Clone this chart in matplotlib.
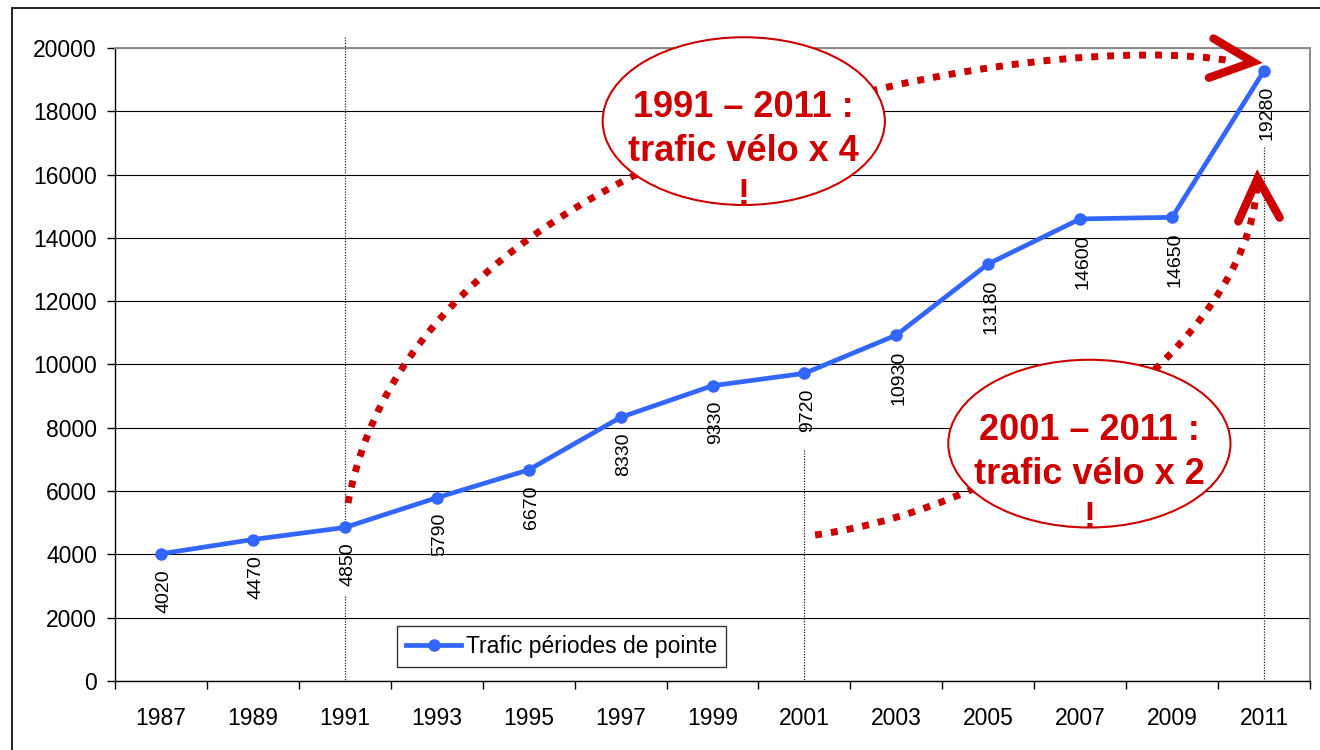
import matplotlib
matplotlib.use('Agg')
import matplotlib.pyplot as plt
from matplotlib.patches import Ellipse, PathPatch, Rectangle
from matplotlib.path import Path
import numpy as np

plt.rcParams['font.family'] = ['Liberation Sans', 'DejaVu Sans']

# ---------------- data ----------------
years = ['1987', '1989', '1991', '1993', '1995', '1997', '1999',
         '2001', '2003', '2005', '2007', '2009', '2011']
traffic = [4020, 4470, 4850, 5790, 6670, 8330, 9330,
           9720, 10930, 13180, 14600, 14650, 19280]
series_name = 'Trafic périodes de pointe'
y_ticks = [0, 2000, 4000, 6000, 8000, 10000, 12000, 14000, 16000, 18000, 20000]

# annotations (category index, value)
drop_lines = [(2, 20350, 4850), (2, 2700, 0), (7, 7300, 0), (12, 16870, 0)]
callout_texts = ['1991 – 2011 :\ntrafic vélo x 4\n!',
                 '2001 – 2011 :\ntrafic vélo x 2\n!']
callout_centers = [(6.34, 17690), (10.10, 7500)]
arrow_curves = [
    [(2.035, 5625), (2.80, 17600), (9.67, 20650), (11.66, 19580)],
    [(7.116, 4613), (9.35, 5500), (11.80, 10700), (11.92, 15570)],
]
arrow_heads = [
    [(11.45, 20300), (11.88, 19560), (11.40, 19060)],
    [(11.72, 14520), (11.93, 15880), (12.17, 14640)],
]

BLUE = '#3366FF'
RED = '#CC0000'

fig = plt.figure(figsize=(13.2, 7.5), dpi=100)
ax = fig.add_axes([115 / 1320, (750 - 681) / 750, (1310 - 115) / 1320, (681 - 48) / 750])

# outer frame (left and top visible)
fig.patches.append(Rectangle((12 / 1320, -0.1), 1.2, (750 - 8) / 750 + 0.1,
                             transform=fig.transFigure, fill=False,
                             edgecolor='#222222', lw=1.4, zorder=0))

x = np.arange(len(years))
ax.set_xlim(-0.5, len(years) - 0.5)
ax.set_ylim(0, 20000)

# grid
ax.set_yticks(y_ticks)
ax.yaxis.grid(True, color='#000000', lw=0.8, zorder=0)
ax.set_axisbelow(True)

# spines
ax.spines['top'].set_color('#8c8c8c')
ax.spines['right'].set_color('#8c8c8c')
ax.spines['top'].set_linewidth(1.4)
ax.spines['right'].set_linewidth(1.4)
ax.spines['left'].set_color('#000000')
ax.spines['bottom'].set_color('#000000')
ax.spines['left'].set_linewidth(1.0)
ax.spines['bottom'].set_linewidth(1.0)

# ticks
ax.set_xticks(np.arange(-0.5, len(years)), minor=False)
ax.set_xticklabels([''] * (len(years) + 1), minor=False)
ax.set_xticks(x, minor=True)
ax.set_xticklabels(years, minor=True)
ax.tick_params(axis='x', which='major', length=6, width=1, direction='out')
ax.tick_params(axis='x', which='minor', length=0, pad=19, labelsize=16.5)
ax.tick_params(axis='y', length=6, width=1, direction='out', pad=7, labelsize=16.5)

# drop lines
for xi, y0, y1 in drop_lines:
    ax.plot([xi, xi], [y0, y1], color='#222222', lw=0.9, ls=(0, (1, 1.2)),
            zorder=1, clip_on=False)

# main series
ax.plot(x, traffic, color=BLUE, lw=3.4, marker='o', markersize=8,
        label=series_name, zorder=3)

for xi, v in zip(x, traffic):
    ax.annotate(str(v), (xi, v), xytext=(2, -11), textcoords='offset points',
                rotation=90, ha='center', va='top', fontsize=14, zorder=4)

# red dotted arrows
for pts in arrow_curves:
    path = Path(pts, [Path.MOVETO, Path.CURVE4, Path.CURVE4, Path.CURVE4])
    ax.add_patch(PathPatch(path, fill=False, edgecolor=RED, lw=5,
                           ls=(0, (1.0, 1.3)), capstyle='butt',
                           zorder=5, clip_on=False))
for head in arrow_heads:
    hx, hy = zip(*head)
    ax.plot(hx, hy, color=RED, lw=6, solid_capstyle='round',
            solid_joinstyle='miter', zorder=5, clip_on=False)

# callouts
for (cx, cy), txt in zip(callout_centers, callout_texts):
    ax.add_patch(Ellipse((cx, cy), 3.07, 5300, facecolor='white',
                         edgecolor=RED, lw=1.5, zorder=6, clip_on=False))
    ax.annotate(txt, (cx, cy), xytext=(0, -22), textcoords='offset points',
                ha='center', va='center', fontsize=26, fontweight='bold',
                color=RED, linespacing=1.33, zorder=7)

# legend
leg = ax.legend(loc='lower left', bbox_to_anchor=(0.236, 0.022),
                borderaxespad=0, fontsize=16.5, frameon=True, fancybox=False,
                handlelength=2.4, handletextpad=0.2, borderpad=0.4)
leg.get_frame().set_edgecolor('black')
leg.get_frame().set_linewidth(1.0)

fig.savefig('out.png', dpi=100)
